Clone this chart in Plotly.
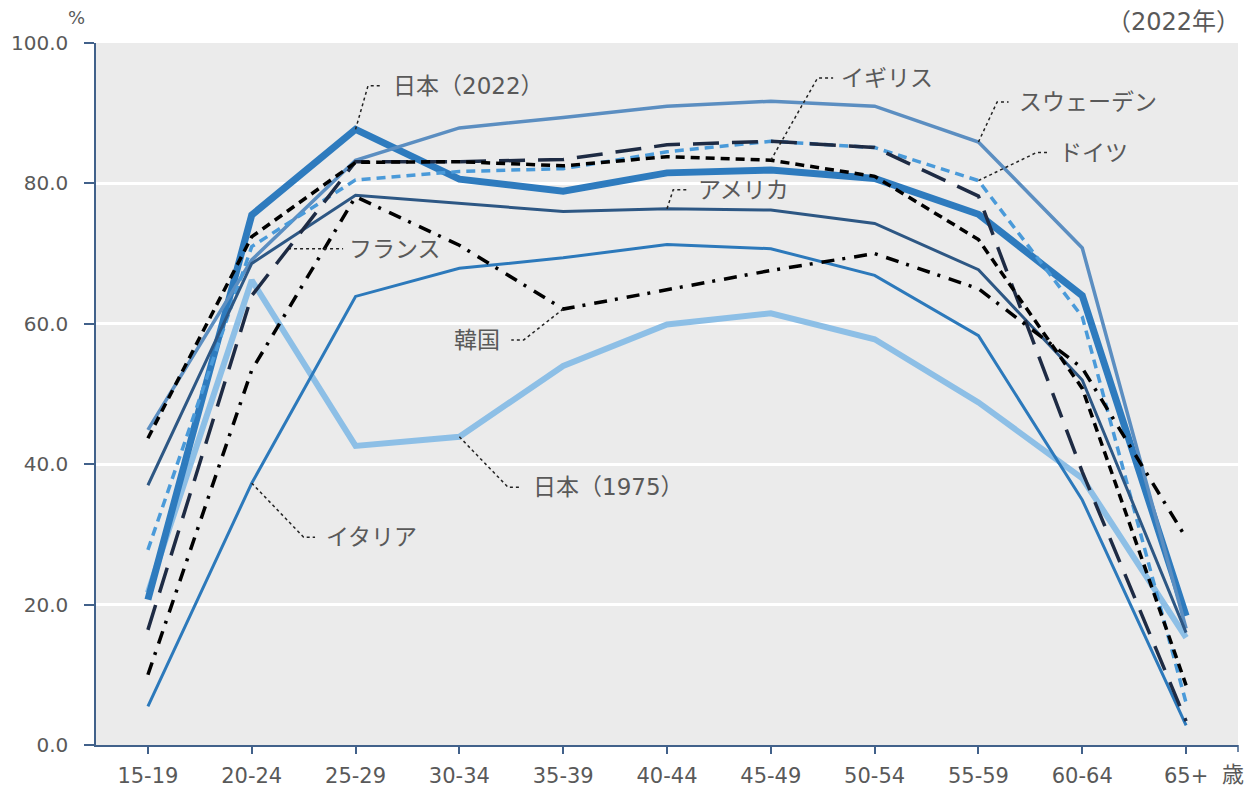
import plotly.graph_objects as go

categories = ["15-19", "20-24", "25-29", "30-34", "35-39", "40-44", "45-49", "50-54", "55-59", "60-64", "65+"]
x_idx = list(range(len(categories)))

japan_2022 = [20.7, 75.5, 87.7, 80.6, 78.9, 81.5, 81.9, 80.7, 75.6, 64.0, 18.4]
japan_1975 = [21.7, 66.2, 42.6, 43.9, 54.0, 59.9, 61.5, 57.8, 48.8, 38.0, 15.3]
sweden = [44.9, 69.1, 83.3, 87.9, 89.4, 91.0, 91.7, 91.0, 85.9, 70.8, 16.6]
germany = [27.8, 71.0, 80.5, 81.7, 82.1, 84.5, 86.0, 85.1, 80.4, 61.0, 6.0]
usa = [37.0, 68.6, 78.3, 77.1, 76.0, 76.4, 76.2, 74.3, 67.7, 52.0, 16.0]
italy = [5.5, 37.3, 63.9, 67.9, 69.4, 71.3, 70.7, 66.9, 58.3, 34.9, 2.8]
france = [16.4, 64.0, 83.1, 83.1, 83.4, 85.5, 86.0, 85.1, 78.2, 38.9, 3.4]
uk = [43.7, 72.4, 83.0, 83.1, 82.5, 83.8, 83.3, 81.0, 72.0, 50.8, 8.5]
korea = [10.0, 53.4, 78.1, 71.2, 62.1, 64.8, 67.6, 70.0, 65.0, 53.7, 29.5]

y_ticks = [0, 20, 40, 60, 80, 100]

TXT = "#595959"
AX = "#41618A"
FONT = "DejaVu Sans, Noto Sans CJK JP"
LFONT = "DejaVu Sans, Noto Sans CJK JP"

series = [
    # name, values, color, width, dash
    ("日本（1975）", japan_1975, "#8DBFE6", 6, "solid"),
    ("日本（2022）", japan_2022, "#2E7BBE", 7, "solid"),
    ("スウェーデン", sweden, "#5B8EC1", 3.5, "solid"),
    ("ドイツ", germany, "#4A9AD9", 3.5, "9px,6px"),
    ("アメリカ", usa, "#2D5784", 3, "solid"),
    ("イタリア", italy, "#2C79BB", 3, "solid"),
    ("フランス", france, "#1E2B44", 3.5, "26px,13px"),
    ("イギリス", uk, "#000000", 3.5, "9px,6px"),
    ("韓国", korea, "#000000", 3.5, "13px,8px,3px,9px"),
]

fig = go.Figure()
for name, vals, color, width, dash in series:
    fig.add_trace(go.Scatter(
        x=x_idx, y=vals, mode="lines", name=name,
        line=dict(color=color, width=width, dash=dash),
        showlegend=False, hoverinfo="skip",
    ))

fr_x = 1.35
fr_y = france[1] + (fr_x - 1) * (france[2] - france[1])

# labels: (text, anchor x, anchor y, elbow x, elbow y, end x, text x, xanchor)
labels = [
    ("日本（2022）", 2, japan_2022[2], 2.12, 93.9, 2.25, 2.34, "left"),
    ("イギリス", 6, uk[6], 6.45, 95.0, 6.6, 6.66, "left"),
    ("スウェーデン", 8, sweden[8], 8.18, 91.6, 8.29, 8.37, "left"),
    ("ドイツ", 8, germany[8], 8.56, 84.4, 8.67, 8.76, "left"),
    ("アメリカ", 5, usa[5], 5.06, 79.1, 5.19, 5.28, "left"),
    ("フランス", fr_x, fr_y, fr_x, fr_y, 1.88, 1.92, "left"),
    ("韓国", 4, korea[4], 3.62, 57.7, 3.5, 3.41, "right"),
    ("日本（1975）", 3, japan_1975[3], 3.47, 36.7, 3.58, 3.69, "left"),
    ("イタリア", 1, italy[1], 1.5, 29.6, 1.61, 1.7, "left"),
]

# page offset: the html body has an 8px margin
OFF = 8
L, T = 88, 35
PW, PH = 1142, 702
W = 1237
H = 780
R = W - L - PW
B = H - T - PH


def px(page_x):
    return (page_x - OFF - L) / PW


def py(page_y):
    return (T + PH + OFF - page_y) / PH


annotations = []
for text, ax0, ay0, ex, ey, endx, tx, xa in labels:
    fig.add_trace(go.Scatter(
        x=[ax0, ex, endx], y=[ay0, ey, ey], mode="lines",
        line=dict(color="#222222", width=1.5, dash="dot"),
        showlegend=False, hoverinfo="skip",
    ))
    annotations.append(dict(
        x=tx, y=ey, xref="x", yref="y", text=text, showarrow=False,
        xanchor=xa, yanchor="middle",
        font=dict(family=LFONT, size=23, color=TXT),
    ))

annotations += [
    dict(x=px(76), y=py(18), xref="paper", yref="paper", text="%", showarrow=False,
         font=dict(family=FONT, size=18, color=TXT), xanchor="center", yanchor="middle"),
    dict(x=px(1242), y=py(22), xref="paper", yref="paper", text="（2022年）", showarrow=False,
         font=dict(family=LFONT, size=24, color=TXT), xanchor="right", yanchor="middle"),
    dict(x=px(1220), y=py(774), xref="paper", yref="paper", text="歳", showarrow=False,
         font=dict(family=LFONT, size=22, color=TXT), xanchor="left", yanchor="middle"),
]

fig.update_layout(
    width=W, height=H,
    margin=dict(l=L, r=R, t=T, b=B, autoexpand=False),
    paper_bgcolor="white",
    plot_bgcolor="#EBEBEB",
    font=dict(family=FONT, color=TXT),
    annotations=annotations,
    shapes=[dict(type="line", xref="paper", yref="paper", x0=1, x1=1, y0=0, y1=-7 / PH,
                 line=dict(color=AX, width=1.5))],
    xaxis=dict(
        range=[-0.5, 10.5], tickmode="array", tickvals=x_idx, ticktext=categories,
        showgrid=False, zeroline=False, showline=True, linecolor=AX, linewidth=1.5,
        ticks="outside", ticklen=7, tickcolor=AX, tickwidth=1.5, automargin=False,
        tickfont=dict(family=FONT, size=21, color=TXT), ticklabelstandoff=4,
    ),
    yaxis=dict(
        range=[0, 100], tickmode="array", tickvals=y_ticks,
        ticktext=[f"{v:.1f}" for v in y_ticks],
        showgrid=True, gridcolor="white", gridwidth=3, zeroline=False,
        showline=True, linecolor=AX, linewidth=1.5, automargin=False,
        ticks="outside", ticklen=10, tickcolor=AX, tickwidth=1.5,
        tickfont=dict(family=FONT, size=20, color=TXT), ticklabelstandoff=12,
    ),
)

fig.write_html("out.html")
